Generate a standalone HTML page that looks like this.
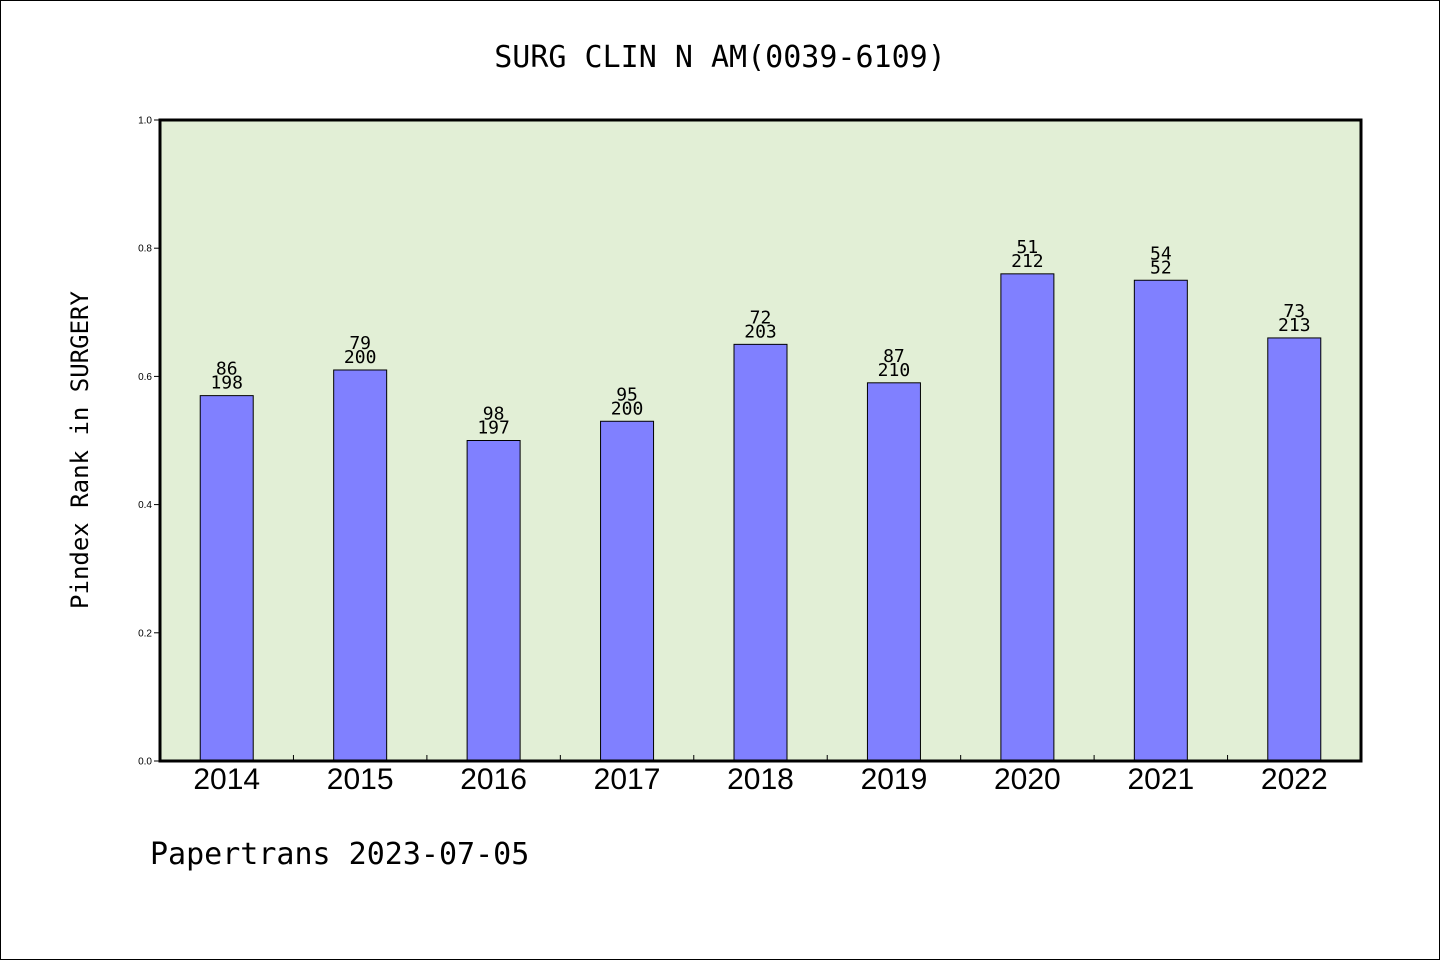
<!DOCTYPE html>
<html><head><meta charset="utf-8"><style>
html,body{margin:0;padding:0;background:#fff}
svg{display:block}
.mono{font-family:"WenQuanYi Zen Hei","DejaVu Sans Mono",monospace}
.sans{font-family:"Liberation Sans","DejaVu Sans",sans-serif}
</style></head><body>
<svg id="chart" width="1440" height="960" xmlns="http://www.w3.org/2000/svg">
<rect x="0.5" y="0.5" width="1439" height="959" fill="#fff" stroke="#000"/>
<text x="720" y="67" text-anchor="middle" font-size="30" class="mono">SURG CLIN N AM(0039-6109)</text>
<rect x="160" y="120" width="1201" height="641" fill="#e2efd6"/>
<g id="bars"></g>
<rect x="160" y="120" width="1201" height="641" fill="none" stroke="#000" stroke-width="3"/>
<g id="axes"></g>
<text transform="translate(88,450) rotate(-90)" text-anchor="middle" font-size="24" class="mono">Pindex Rank in SURGERY</text>
<text x="150" y="864" font-size="30" class="mono">Papertrans 2023-07-05</text>
</svg>
<script>
const categories=["2014","2015","2016","2017","2018","2019","2020","2021","2022"];
const values=[0.57,0.61,0.50,0.53,0.65,0.59,0.76,0.75,0.66];
const ranks=["86","79","98","95","72","87","51","54","73"];
const totals=["198","200","197","200","203","210","212","52","213"];
const yTicks=[0,0.2,0.4,0.6,0.8,1.0];
const yTickLabels=["0.0","0.2","0.4","0.6","0.8","1.0"];
const NS="http://www.w3.org/2000/svg";
const X0=160,X1=1361,Y0=761,Y1=120;
const slot=(X1-X0)/categories.length;
function xc(i){return X0+slot*(i+0.5);}
function y(v){return Y0-(Y0-Y1)*v;}
function mk(tag,attrs,parent,text){const e=document.createElementNS(NS,tag);for(const k in attrs)e.setAttribute(k,attrs[k]);if(text!==undefined)e.textContent=text;parent.appendChild(e);return e;}
const bars=document.getElementById('bars'),axes=document.getElementById('axes');
const bw=53;
categories.forEach((c,i)=>{
  const r=mk('rect',{x:xc(i)-bw/2,y:y(values[i]),width:bw,height:Y0-y(values[i]),fill:'#8080ff',stroke:'#000','stroke-width':1},bars);
  
  
  const t1=mk('text',{x:xc(i),y:y(values[i])-21,'text-anchor':'middle','font-size':18,class:'mono'},bars,ranks[i]);
  
  
  const t2=mk('text',{x:xc(i),y:y(values[i])-7,'text-anchor':'middle','font-size':18,class:'mono'},bars,totals[i]);
  
  
  const xl=mk('text',{x:xc(i),y:789,'text-anchor':'middle','font-size':30,class:'sans'},axes,c);
  
  
  if(i>0){
    const tk=mk('line',{x1:X0+slot*i,x2:X0+slot*i,y1:Y0,y2:Y0-6,stroke:'#000','stroke-width':1},axes);
    
    
  }
});
yTicks.forEach((v,i)=>{
  const tk=mk('line',{x1:X0-6,x2:X0,y1:y(v),y2:y(v),stroke:'#000','stroke-width':1},axes);
  
  
  const tl=mk('text',{x:152,y:y(v)+3.5,'text-anchor':'end','font-size':10,class:'sans'},axes,yTickLabels[i]);
  
  
});
</script>
</body></html>
